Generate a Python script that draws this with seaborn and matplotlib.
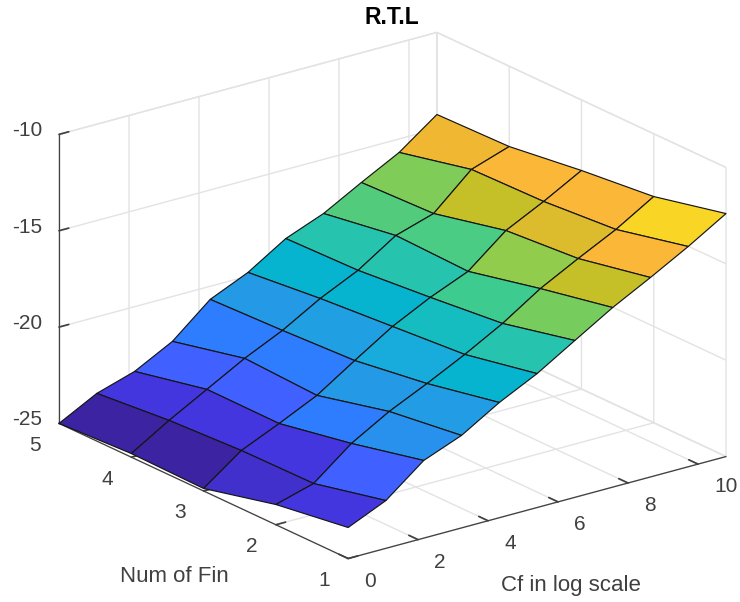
import numpy as np
import matplotlib
matplotlib.use("Agg")
import matplotlib.pyplot as plt
from mpl_toolkits.mplot3d import proj3d
import seaborn as sns

sns.set_theme(style="white")
plt.rcParams['font.family'] = ['Liberation Sans', 'DejaVu Sans']
plt.rcParams['axes.unicode_minus'] = False

# --- data ---
cf_vals = [0, 1.08, 2.16, 3.24, 4.32, 5.4, 6.48, 7.56, 8.64, 9.72, 10.8]
fin_vals = [1, 2, 3, 4, 5]

rtl_fin1 = [-23.39, -22.52, -20.97, -20.20, -19.02, -18.05, -16.86, -15.68, -14.65, -13.57, -12.39]
rtl_fin2 = [-23.95, -23.39, -21.84, -20.71, -19.79, -18.81, -17.73, -16.45, -15.42, -14.44, -13.26]
rtl_fin3 = [-24.87, -23.43, -22.56, -21.63, -20.35, -19.11, -18.13, -17.31, -15.72, -14.74, -13.66]
rtl_fin4 = [-24.81, -23.62, -22.54, -21.46, -20.54, -19.41, -18.48, -17.20, -16.59, -14.83, -14.17]
rtl_fin5 = [-25.00, -23.97, -23.36, -22.33, -20.68, -19.81, -18.58, -17.81, -16.73, -15.70, -14.26]

# colour step of each cell (between two fin rows)
level_12 = [1, 2, 3.7, 4.2, 6, 7, 9.8, 12, 14, 15]
level_23 = [0.75, 1, 3, 4, 5, 6.5, 8, 11, 12.5, 14]
level_34 = [0, 1, 2, 3, 4.3, 6, 7, 8.6, 12, 14]
level_45 = [0, 1, 2, 3, 4, 6, 7, 9, 10, 13]

parula_steps = ['#3c23a1', '#4436de', '#4060ff', '#2f7dff', '#2499e6', '#18acdc',
                '#06b4d0', '#26c4ae', '#3ecb90', '#52cc7c', '#7fcc58', '#92cc4c',
                '#c6c028', '#f0b832', '#fbb838', '#f9d626']

z_ticks = [-25, -20, -15, -10]
x_ticks = [0, 2, 4, 6, 8, 10]
y_ticks = [1, 2, 3, 4, 5]

# --- build grids ---
X, Y = np.meshgrid(cf_vals, fin_vals)
Z = np.array([rtl_fin1, rtl_fin2, rtl_fin3, rtl_fin4, rtl_fin5])

levels = np.array([level_12, level_23, level_34, level_45])
cmap = sns.blend_palette(parula_steps, n_colors=256, as_cmap=True)
facecolors = np.ones(Z.shape + (4,))
facecolors[:4, :10] = cmap(levels / 15.0)

# --- figure ---
fig = plt.figure(figsize=(7.4, 6.02), dpi=100)
ax = fig.add_axes([83.4 / 740, -2.6 / 602, 602 / 740, 1.0], projection='3d')
ax.set_proj_type('ortho')
ax.view_init(elev=20.8, azim=-127.23)
ax.set_box_aspect((474.6, 477.8, 309.2), zoom=1.195)

surf = ax.plot_surface(X, Y, Z, facecolors=facecolors, rstride=1, cstride=1, shade=False,
                       edgecolor='#151515', linewidth=0.85)
surf.set_clip_on(False)

ax.set_xlim(0, 10.8, view_margin=0)
ax.set_ylim(1, 5, view_margin=0)
ax.set_zlim(-25, -10, view_margin=0)
ax.set_xticks(x_ticks)
ax.set_yticks(y_ticks)
ax.set_zticks(z_ticks)

grid_col = '#e3e3e3'
for axis, tick_len in [(ax.xaxis, 0.4), (ax.yaxis, 0.32), (ax.zaxis, 0.32)]:
    axis.set_pane_color((1, 1, 1, 1))
    axis.pane.set_edgecolor(grid_col)
    axis.pane.set_linewidth(1.0)
    axis.line.set_color('#404040')
    axis.line.set_linewidth(0.9)
    axis._axinfo['grid']['color'] = grid_col
    axis._axinfo['grid']['linewidth'] = 1.0
    axis._axinfo['tick']['inward_factor'] = 0.0
    axis._axinfo['tick']['outward_factor'] = tick_len
    # the labels are written by hand below
    axis.set_ticklabels([])

ax.tick_params(axis='both', color='#404040')


def tick_label(x, y, z, text, offset, ha):
    # 2D label at the projected tick, moved by an offset in pixels
    px, py, _ = proj3d.proj_transform(x, y, z, ax.get_proj())
    ax.annotate(text, (px, py), xytext=offset, textcoords='offset pixels', ha=ha, va='center',
                fontsize=15, color='#404040', annotation_clip=False)


for t in x_ticks:
    tick_label(t, 1, -25, str(t), (16, -22.5), 'left')
for t in y_ticks:
    tick_label(0, t, -25, str(t), (-24, -22), 'center')
for t in z_ticks:
    tick_label(0, 5, t, str(t), (-17, 3.5), 'right')

fig.text(392 / 740, 1 - 17 / 602, 'R.T.L', ha='center', va='center', fontsize=16.5,
         fontweight='bold', color='black')
fig.text(174 / 740, 1 - 577 / 602, 'Num of Fin', ha='center', va='center', fontsize=16, color='#404040')
fig.text(571 / 740, 1 - 585 / 602, 'Cf in log scale', ha='center', va='center', fontsize=16, color='#404040')

fig.savefig('out.png', dpi=100)
